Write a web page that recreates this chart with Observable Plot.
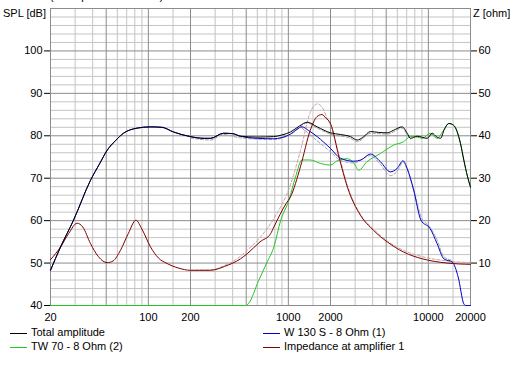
<!DOCTYPE html>
<html>
<head>
<meta charset="utf-8">
<script src="https://cdn.jsdelivr.net/npm/d3@7"></script>
<script src="https://cdn.jsdelivr.net/npm/@observablehq/plot@0.6"></script>
<style>
  html, body { margin: 0; padding: 0; background: #ffffff; }
  #wrap { position: relative; width: 516px; height: 368px; overflow: hidden; font-family: "Liberation Sans", Arial, sans-serif; font-size: 11px; color: #000; }
  .abs { position: absolute; white-space: nowrap; line-height: 13px; }
  .sw { position: absolute; height: 0; border-top: 1px solid; }
</style>
</head>
<body>
<div id="wrap"></div>
<script>
// ---- tick labels / grid ----
const freqTicks = [20, 50, 100, 200, 500, 1000, 2000, 5000, 10000, 20000];
const freqMinor = [30, 40, 60, 70, 80, 90, 150, 300, 400, 600, 700, 800, 900, 1500, 3000, 4000, 6000, 7000, 8000, 9000, 15000];
const splTicks = [40, 50, 60, 70, 80, 90, 100];
const splMajorGrid = [40, 50, 60, 70, 80, 90, 100, 110];
const splMinorGrid = [42,44,46,48,52,54,56,58,62,64,66,68,72,74,76,78,82,84,86,88,92,94,96,98,102,104,106,108];
const ohmTicks = [10, 20, 30, 40, 50, 60];
const ohmOffset = 40; // Z axis: 0 ohm at 40 dB, 10 ohm per 10 dB

// ---- Total amplitude (dB) ----
const totalF = [20,23.6,29.2,38.6,45,50.8,58,66.4,83,103,125,151,200,250,278,344,400,455,600,784,900,1036,1200,1364,1607,2000,2358,2780,3104,3400,3860,4400,5082,5636,6505,7060,7456,8318,9814,10650,11400,12210,13000,14000,15120,16960,17914,19000,20000];
const totalDB = [48.3,53.8,60.1,69.5,73.5,76.6,78.8,80.6,81.8,82.1,82.0,80.9,79.8,79.4,79.4,80.6,80.5,79.9,79.7,79.8,80.2,80.9,82.3,83.2,82.1,80.7,80.3,79.8,79.0,79.6,81.0,80.8,80.7,81.3,82.1,80.6,79.4,79.9,79.4,80.6,79.8,79.4,81.5,82.9,82.5,78.2,74.3,70.5,67.9];

// ---- W 130 S - 8 Ohm (1) (dB) ----
const wooferF = [20,23.6,29.2,38.6,45,50.8,58,66.4,83,103,125,151,200,250,278,344,400,455,600,784,900,1036,1150,1252,1400,1607,2000,2358,2930,3300,3860,4540,5350,5980,6600,7060,7850,8860,10310,11540,12900,14860,16330,17914,18500,20000];
const wooferDB = [48.3,53.8,60.1,69.5,73.5,76.6,78.8,80.6,81.8,82.1,82.0,80.9,79.8,79.4,79.4,80.6,80.5,79.9,79.4,79.3,79.6,80.4,81.5,82.1,81.2,79.8,77.0,74.7,74.0,74.3,75.7,73.9,71.5,72.3,74.1,72.3,67.2,60.1,58.1,54.6,51.0,50.2,46.7,40.4,40,40];

// ---- TW 70 - 8 Ohm (2) (dB) ----
const tweeterF = [20,494,520,614,700,788,882,1009,1125,1252,1434,1690,2000,2230,2640,2930,3180,3650,4540,5650,6650,7456,8318,9070,10310,11540,12900,14000,15120,16960,17914,19000,20000];
const tweeterDB = [40,40,40.5,45.9,50,53.8,60.1,64.8,70.3,74.3,74.3,73.5,73.1,74.1,74.6,73.6,71.9,73.9,75.8,77.8,78.6,79.8,79.7,79.4,80.6,79.4,81.4,82.9,82.5,78.2,74.3,70.5,67.9];

// ---- Impedance at amplifier 1 (ohm) ----
const impF = [20,23.6,27,31,34,38.6,44,50.8,56,63.2,72,81.5,90,103.6,118,136,165,200,278,350,455,508,627,746,788,962,1036,1220,1434,1600,1738,1850,2000,2300,2640,3270,4060,5080,6650,9070,13600,20000];
const impOhm = [10.8,13.8,17,19.4,18.5,14.6,11.5,10.1,10.5,13.0,17,20.1,18,13.8,11.2,9.9,8.8,8.3,8.3,9.2,11.0,12.2,15.0,16.9,18.5,24.0,25.6,32.7,41.3,44.5,45.0,44.2,42.9,35.0,27.9,21.3,17.7,15.0,12.6,11.0,10.0,9.7];

// ---- previous (dashed) curves ----
const prevTotalF = [200,278,344,455,784,1036,1364,1607,2000,2780,3104,3860,5082,6505,7060,7456];
const prevTotalDB = [79.5,79.0,80.3,79.5,79.1,80.3,83.0,81.8,80.4,79.4,78.6,80.6,80.4,81.8,80.3,79.2];
const prevWooferF = [1252,1400,1607,2000,2358,2930,3860,4540,5350,5980,6600,7060,7850,8860,10310,11540,12900,14860];
const prevWooferDB = [81.8,80.5,78.8,76.2,74.2,73.6,75.3,73.3,70.6,71.6,73.8,72.0,67.5,61.0,58.4,55.5,51.5,50.6];
const prevImpF = [200,278,350,455,508,627,788,1036,1220,1434,1607,1738,1900,2000,2300,2640,3270,4060,5080,6650,9070,13600,20000];
const prevImpOhm = [8.3,8.4,9.4,11.6,13.0,16.0,20.5,28.5,36.5,45.5,47.5,46.8,44.0,42.5,35.5,28.3,21.5,18.0,15.2,13.0,11.5,10.5,10.1];

const legendItems = [
  {label: "Total amplitude", color: "#000000"},
  {label: "TW 70 - 8 Ohm (2)", color: "#22c822"},
  {label: "W 130 S - 8 Ohm (1)", color: "#0000c8"},
  {label: "Impedance at amplifier 1", color: "#800000"}
];

const pts = (fs, vs, off = 0) => fs.map((f, i) => ({f, v: vs[i] + off}));

const lineOpts = (color, extra = {}) => ({x: "f", y: "v", stroke: color, strokeWidth: 1, curve: "monotone-x", ...extra});

const chart = Plot.plot({
  width: 516,
  height: 324,
  marginTop: 8,
  marginBottom: 19,
  marginLeft: 50,
  marginRight: 46,
  x: {type: "log", domain: [20, 20000]},
  y: {domain: [40, 110]},
  style: {fontFamily: "'Liberation Sans', Arial, sans-serif", fontSize: "11px", background: "white", color: "black", overflow: "visible"},
  marks: [
    Plot.ruleY(splMinorGrid, {stroke: "#c4c4c4"}),
    Plot.ruleX(freqMinor, {stroke: "#c4c4c4"}),
    Plot.ruleY(splMajorGrid, {stroke: "#8c8c8c"}),
    Plot.ruleX(freqTicks, {stroke: "#8c8c8c"}),
    Plot.line(pts(prevImpF, prevImpOhm, ohmOffset), lineOpts("#c8a0a0", {strokeDasharray: "3,2"})),
    Plot.line(pts(prevTotalF, prevTotalDB), lineOpts("#a0a0a0", {strokeDasharray: "3,2"})),
    Plot.line(pts(prevWooferF, prevWooferDB), lineOpts("#a0a0b8", {strokeDasharray: "3,2"})),
    Plot.line(pts(tweeterF, tweeterDB), lineOpts("#22c822")),
    Plot.line(pts(wooferF, wooferDB), lineOpts("#0000c8")),
    Plot.line(pts(impF, impOhm, ohmOffset), lineOpts("#800000")),
    Plot.line(pts(totalF, totalDB), lineOpts("#000000")),
    Plot.axisX({ticks: freqTicks, tickFormat: d3.format("d"), tickSize: 0, tickPadding: 8, label: null}),
    Plot.axisY({anchor: "left", ticks: splTicks, tickSize: 6, tickPadding: 2, label: null}),
    Plot.axisY({anchor: "right", ticks: ohmTicks.map(z => z + ohmOffset), tickFormat: d => String(d - ohmOffset), tickSize: 6, tickPadding: 2, label: null})
  ]
});

const wrap = document.getElementById("wrap");
chart.style.position = "absolute";
chart.style.left = "0px";
chart.style.top = "0px";
wrap.appendChild(chart);

function addText(txt, left, top) {
  const d = document.createElement("div");
  d.className = "abs";
  d.textContent = txt;
  d.style.left = left + "px";
  d.style.top = top + "px";
  wrap.appendChild(d);
  return d;
}
// clipped header line
addText("(at amplifier and driver)", 50, -10);
addText("01.01.2012", 412, -10);
// axis titles
addText("SPL [dB]", 3, 7);
addText("Z [ohm]", 473, 7);

// legend
const legPos = [[10, 333], [10, 347], [263, 333], [263, 347]];
legendItems.forEach((it, i) => {
  const [lx, ly] = legPos[i];
  const s = document.createElement("div");
  s.className = "sw";
  s.style.left = lx + "px";
  s.style.top = ly + "px";
  s.style.width = "17px";
  s.style.borderTopColor = it.color;
  wrap.appendChild(s);
  addText(it.label, lx + 21, ly - 7);
});
</script>
</body>
</html>
